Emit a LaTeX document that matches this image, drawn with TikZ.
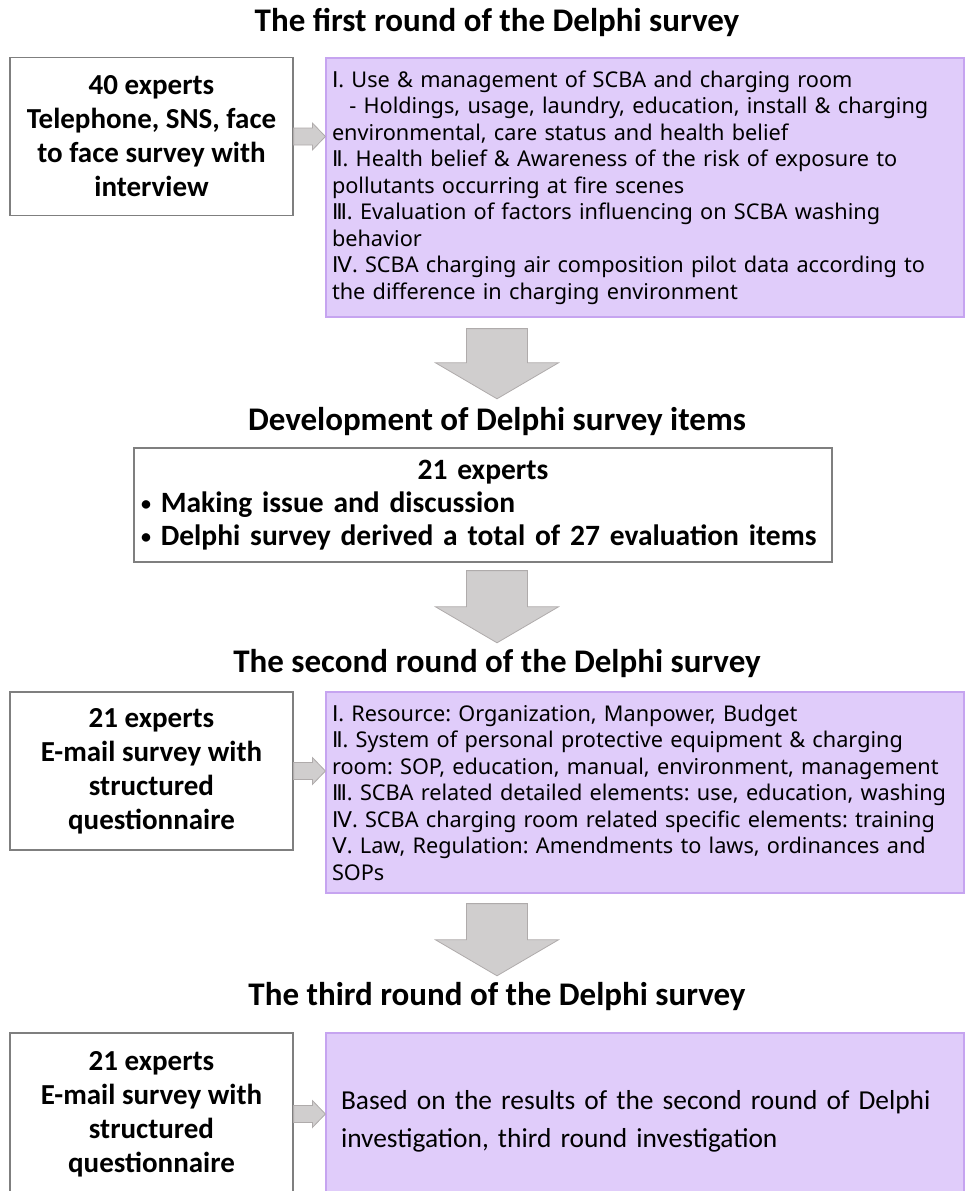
\documentclass[tikz,border=0pt]{standalone}
\usepackage{fontspec}
\setmainfont{Carlito}
\newfontfamily\bodyfont{Noto Sans}
\newfontfamily\numfont{DejaVu Sans}
\usetikzlibrary{calc}
\definecolor{boxpurple}{RGB}{224,204,250}
\definecolor{edgepurple}{RGB}{198,164,240}
\definecolor{arrowgray}{RGB}{208,206,206}
\definecolor{arrowedge}{RGB}{175,171,171}
\definecolor{boxedge}{RGB}{127,127,127}
\newcommand{\rn}[1]{{\numfont #1}}
\newcommand{\itemdot}{{\fontsize{20}{20}\selectfont\raisebox{0.15ex}{•}}}
\frenchspacing

\begin{document}
\begin{tikzpicture}[x=1pt, y=-1pt,
        title/.style={anchor=base, inner sep=0pt, text height=25pt, text depth=8pt, font=\bfseries\fontsize{33}{40}\selectfont},
        expert/.style={draw=boxedge, line width=1.2pt, fill=white, align=center, minimum width=283pt, minimum height=158pt, inner sep=0pt, font=\bfseries\fontsize{29}{34}\selectfont},
        items/.style={draw=edgepurple, line width=1.2pt, fill=boxpurple, minimum width=638pt, text width=626pt, inner xsep=6pt, align=left, font=\bodyfont\fontsize{21.7}{26.5}\selectfont},
        devbox/.style={draw=boxedge, line width=1.2pt, fill=white, minimum width=698pt, minimum height=114pt, text width=684pt, inner xsep=7pt, align=left, font=\bfseries\fontsize{29.5}{33}\selectfont},
        downarrow/.style={draw=arrowedge, fill=arrowgray, line width=0.8pt,
            to path={let \p1=(\tikztostart), \p2=(\tikztotarget) in
                (\x1-30.5pt,\y1) -- (\x1+30.5pt,\y1) -- (\x1+30.5pt,\y2+36pt) -- (\x1+61.5pt,\y2+36pt)
                -- (\x1,\y2) -- (\x1-61.5pt,\y2+36pt) -- (\x1-30.5pt,\y2+36pt) -- cycle}},
        rightarrow/.style={draw=arrowedge, fill=arrowgray, line width=0.8pt,
            to path={let \p1=(\tikztostart), \p2=(\tikztotarget) in
                (\x1,\y1+8.5pt) -- (\x2-13pt,\y1+8.5pt) -- (\x2-13pt,\y1+13.5pt) -- (\x2,\y1)
                -- (\x2-13pt,\y1-13.5pt) -- (\x2-13pt,\y1-8.5pt) -- (\x1,\y1-8.5pt) -- cycle}}
    ]
        \useasboundingbox (0,0) rectangle (966,1191);
        \clip (0,0) rectangle (966,1191);

        % first round
        \node[title] (title1) at (497,31) {The first round of the Delphi survey};
        \node[expert] (exp1) at (151.5,136.5) {40 experts\\Telephone, SNS, face\\to face survey with\\interview};
        \node[items, minimum height=259pt] (items1) at (645,187.5) {\rn{Ⅰ}. Use \& management of SCBA and charging room\\
            \hspace*{0.8em}- Holdings, usage, laundry, education, install \& charging\\
            environmental, care status and health belief\\
            \rn{Ⅱ}. Health belief \& Awareness of the risk of exposure to\\
            pollutants occurring at fire scenes\\
            \rn{Ⅲ}. Evaluation of factors influencing on SCBA washing\\
            behavior\\
            \rn{Ⅳ}. SCBA charging air composition pilot data according to\\
            the difference in charging environment};

        % item development
        \node[title] (title2) at (497,430) {Development of Delphi survey items};
        \node[devbox] (dev) at (483,505) {\makebox[\linewidth]{21 experts}\\
            \itemdot\ Making issue and discussion\\
            \itemdot\ Delphi survey derived a total of 27 evaluation items};

        % second round
        \node[title] (title3) at (497,672) {The second round of the Delphi survey};
        \node[expert] (exp2) at (151.5,771) {21 experts\\E-mail survey with\\structured\\questionnaire};
        \node[items, minimum height=201pt] (items2) at (645,792.5) {\rn{Ⅰ}. Resource: Organization, Manpower, Budget\\
            \rn{Ⅱ}. System of personal protective equipment \& charging\\
            room: SOP, education, manual, environment, management\\
            \rn{Ⅲ}. SCBA related detailed elements: use, education, washing\\
            \rn{Ⅳ}. SCBA charging room related specific elements: training\\
            \rn{Ⅴ}. Law, Regulation: Amendments to laws, ordinances and\\
            SOPs};

        % third round
        \node[title] (title4) at (497,1005) {The third round of the Delphi survey};
        \node[expert, minimum height=162pt] (exp3) at (151.5,1114) {21 experts\\E-mail survey with\\structured\\questionnaire};
        \node[items, minimum height=176pt, inner xsep=15pt, text width=608pt, font=\fontsize{27.4}{38}\selectfont] (items3) at (645,1121) {Based on the results of the second round of Delphi\\
            investigation, third round investigation};

        \draw[rightarrow] (exp1.east) to (exp1.east -| items1.west);
        \draw[rightarrow] (exp2.east) to (exp2.east -| items2.west);
        \draw[rightarrow] (exp3.east) to (exp3.east -| items3.west);
        \draw[downarrow] ($(title2.north |- items1.south)+(0,11)$) to ($(title2.north)+(0,-6)$);
        \draw[downarrow] ($(title3.north |- dev.south)+(0,8)$) to ($(title3.north)+(0,-4)$);
        \draw[downarrow] ($(title4.north |- items2.south)+(0,10)$) to ($(title4.north)+(0,-4)$);
    \end{tikzpicture}
\end{document}
